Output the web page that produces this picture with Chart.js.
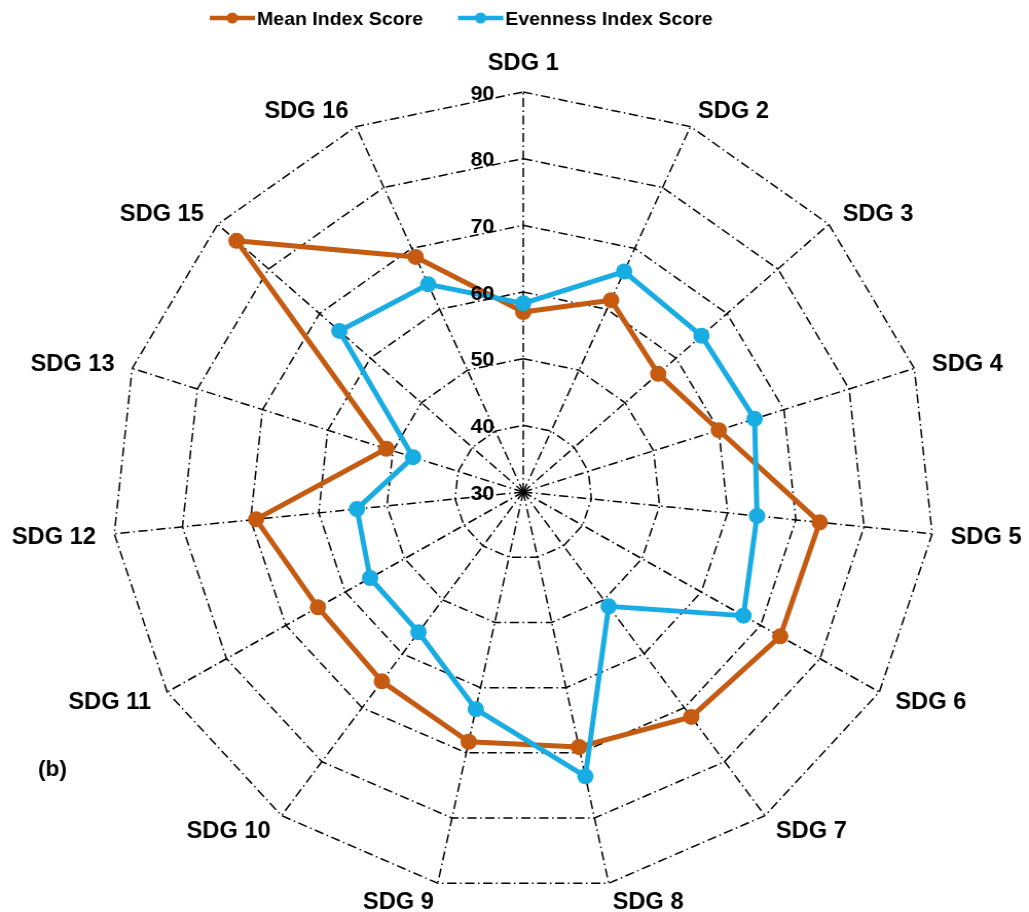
<!DOCTYPE html>
<html>
<head>
<meta charset="utf-8">
<script src="https://cdn.jsdelivr.net/npm/chart.js@4/dist/chart.umd.min.js"></script>
<style>
  html, body { margin: 0; padding: 0; background: #ffffff; }
  #radar { display: block; }
</style>
</head>
<body>
<!-- the drawing is slightly wider than tall, so the canvas is stretched horizontally -->
<canvas id="radar" width="1001" height="912" style="width:1029px;height:912px;"></canvas>
<script>
// Goals on the spokes (SDG 14 has no data)
const categories = ['SDG 1', 'SDG 2', 'SDG 3', 'SDG 4', 'SDG 5', 'SDG 6', 'SDG 7', 'SDG 8',
                    'SDG 9', 'SDG 10', 'SDG 11', 'SDG 12', 'SDG 13', 'SDG 15', 'SDG 16'];
const meanScores     = [57.0, 61.5, 56.5, 60.0, 73.5, 73.3, 71.7, 69.1, 68.3, 65.1, 64.6, 69.2, 51.0, 86.3, 68.6];
const evennessScores = [58.3, 66.2, 65.0, 65.5, 64.3, 67.1, 51.2, 73.6, 63.3, 56.0, 55.8, 54.4, 46.9, 66.1, 64.1];
const seriesNames = ['Mean Index Score', 'Evenness Index Score'];
const tickValues = [30, 40, 50, 60, 70, 80, 90];
const panelTag = '(b)';

const ORANGE = '#C55A11';
const BLUE = '#18ACE3';
const FONT = "'Liberation Sans', Arial, Helvetica, sans-serif";
const DASH = [9, 3.5, 1.5, 3.5];

// Geometry of the polar area (canvas units)
const CENTER_X = 509;
const CENTER_Y = 492;
const RADIUS = 400;

function capOffset(size) { return 0.716 * size / 2; }

const annotatePlugin = {
  id: 'annotate',
  afterDatasetsDraw(chart) {
    const ctx = chart.ctx;
    const scale = chart.scales.r;
    const n = chart.data.labels.length;
    ctx.save();
    ctx.fillStyle = '#000';

    // radial tick labels, left of the vertical spoke
    const tickSize = 21;
    ctx.font = `bold ${tickSize}px ${FONT}`;
    ctx.textAlign = 'right';
    ctx.textBaseline = 'alphabetic';
    tickValues.forEach(v => {
      const y = scale.yCenter - scale.getDistanceFromCenterForValue(v);
      ctx.fillText(String(v), scale.xCenter - 28, y + capOffset(tickSize));
    });

    // spoke labels
    const labSize = 23;
    ctx.font = `bold ${labSize}px ${FONT}`;
    chart.data.labels.forEach((lab, i) => {
      const p = scale.getPointPosition(i, scale.drawingArea + 18);
      const deg = Math.round(i * 360 / n);
      if (deg === 0) {
        ctx.textAlign = 'center';
        ctx.fillText(lab, p.x, p.y - 4.5);
      } else {
        ctx.textAlign = deg < 180 ? 'left' : 'right';
        ctx.fillText(lab, p.x, p.y + capOffset(labSize));
      }
    });

    // panel tag
    ctx.font = `bold 22px ${FONT}`;
    ctx.textAlign = 'left';
    ctx.fillText(panelTag, 37, 776);

    // legend: line with a dot, then the series name
    const legSize = 19;
    ctx.font = `bold ${legSize}px ${FONT}`;
    ctx.textAlign = 'left';
    let x = 204;
    const y = 18;
    chart.data.datasets.forEach(ds => {
      ctx.strokeStyle = ds.borderColor;
      ctx.fillStyle = ds.borderColor;
      ctx.lineWidth = 4.5;
      ctx.setLineDash([]);
      ctx.beginPath();
      ctx.moveTo(x, y);
      ctx.lineTo(x + 44, y);
      ctx.stroke();
      ctx.beginPath();
      ctx.arc(x + 22, y, 5.5, 0, Math.PI * 2);
      ctx.fill();
      ctx.fillStyle = '#000';
      ctx.fillText(ds.label, x + 46, y + capOffset(legSize));
      x += 46 + ctx.measureText(ds.label).width + 34;
    });
    ctx.restore();
  }
};

new Chart(document.getElementById('radar'), {
  type: 'radar',
  data: {
    labels: categories,
    datasets: [
      {
        label: seriesNames[0],
        data: meanScores,
        borderColor: ORANGE,
        backgroundColor: ORANGE,
        pointBackgroundColor: ORANGE,
        pointBorderColor: ORANGE,
        borderWidth: 5,
        pointRadius: 5.5,
        fill: false,
        clip: false,
        order: 1
      },
      {
        label: seriesNames[1],
        data: evennessScores,
        borderColor: BLUE,
        backgroundColor: BLUE,
        pointBackgroundColor: BLUE,
        pointBorderColor: BLUE,
        borderWidth: 5,
        pointRadius: 5.5,
        fill: false,
        clip: false,
        order: 0
      }
    ]
  },
  options: {
    responsive: false,
    devicePixelRatio: 1,
    animation: false,
    events: [],
    layout: { padding: 0 },
    plugins: { legend: { display: false }, tooltip: { enabled: false } },
    elements: { line: { tension: 0 } },
    scales: {
      r: {
        min: tickValues[0],
        max: tickValues[tickValues.length - 1],
        ticks: { stepSize: 10, display: false },
        pointLabels: { display: false },
        grid: { circular: false, color: '#000', lineWidth: 1.5 },
        border: { dash: DASH },
        angleLines: { display: true, color: '#000', lineWidth: 1.5, borderDash: DASH },
        afterFit(scale) {
          scale.xCenter = CENTER_X;
          scale.yCenter = CENTER_Y;
          scale.drawingArea = RADIUS;
        }
      }
    }
  },
  plugins: [annotatePlugin]
});
</script>
</body>
</html>
